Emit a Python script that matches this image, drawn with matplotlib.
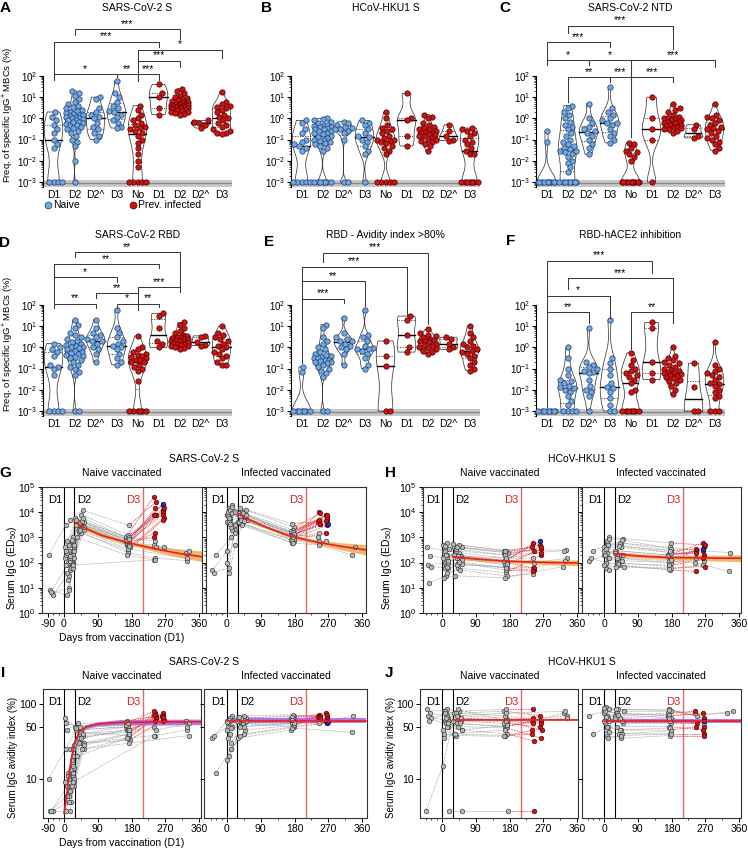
import numpy as np
import matplotlib
matplotlib.use("Agg")
import matplotlib.pyplot as plt
from matplotlib.lines import Line2D
from matplotlib.ticker import (FixedLocator, NullFormatter, FuncFormatter,
                               LogLocator, LogFormatterSciNotation, NullLocator)

plt.rcParams['font.family'] = ['Liberation Sans', 'DejaVu Sans']
plt.rcParams['mathtext.fontset'] = 'custom'
plt.rcParams['mathtext.rm'] = 'Liberation Sans'
plt.rcParams['mathtext.it'] = 'Liberation Sans:italic'
plt.rcParams['mathtext.bf'] = 'Liberation Sans:bold'
plt.rcParams['axes.unicode_minus'] = False

N = None
LOD = 0.001
GROUPS = ['D1', 'D2', 'D2^', 'D3', 'No', 'D1', 'D2', 'D2^', 'D3']

# ---------------- violin data (frequency %, per group) ----------------
vals_A = [
    [2.0, 1.2, 0.8, 0.5, 0.3, 0.2, 0.1, 0.06, 0.04] + [LOD] * 4,
    [20, 15, 12, 8, 6, 5, 4, 3.5, 3, 2.5, 2.2, 2, 1.8, 1.6, 1.5, 1.4, 1.3, 1.2, 1.1, 1.0, 1.0,
     0.9, 0.85, 0.8, 0.7, 0.65, 0.6, 0.55, 0.5, 0.45, 0.4, 0.35, 0.3, 0.25, 0.2, 0.15, 0.1,
     0.08, 0.05, 0.01, LOD],
    [10, 8, 3, 2, 1.5, 1.2, 1.0, 0.6, 0.4, 0.3, 0.2, 0.15, 0.1],
    [60, 15, 10, 6, 4, 3, 2.2, 2, 1.5, 1.2, 0.8, 0.6, 0.4, 0.35],
    [4, 2.5, 1.5, 1, 0.8, 0.6, 0.5, 0.4, 0.35, 0.3, 0.25, 0.2, 0.15, 0.1, 0.07, 0.04, 0.02,
     0.01, 0.005] + [LOD] * 5,
    [40, 15, 10, 3, 1.5],
    [25, 20, 15, 12, 10, 9, 8, 7, 6.5, 6, 5.5, 5, 5, 4.5, 4.5, 4.2, 4, 4, 3.8, 3.5, 3.5, 3.2,
     3, 3, 2.8, 2.5, 2.5, 2.2, 2, 2, 1.8, 1.6, 1.5],
    [0.8, 0.7, 0.6, 0.5, 0.35],
    [18, 6, 5, 4, 3.5, 3, 2.5, 2, 1.5, 1.2, 1, 0.8, 0.6, 0.5, 0.4, 0.3, 0.25, 0.2, 0.2, 0.18],
]
vals_B = [
    [0.8, 0.6, 0.3, 0.2, 0.1, 0.08, 0.06, 0.05, 0.04, 0.03] + [LOD] * 5,
    [1.0, 0.9, 0.8, 0.7, 0.6, 0.5, 0.5, 0.45, 0.4, 0.4, 0.35, 0.3, 0.3, 0.25, 0.25, 0.2, 0.2,
     0.18, 0.15, 0.13, 0.12, 0.1, 0.1, 0.09, 0.08, 0.07, 0.06, 0.05, 0.04, 0.03] + [LOD] * 7,
    [0.7, 0.6, 0.5, 0.4, 0.35, 0.3, 0.3, 0.25, 0.2, 0.1, LOD, LOD],
    [0.8, 0.6, 0.5, 0.3, 0.2, 0.15, 0.13, 0.1, 0.08, 0.05, 0.03, 0.02, LOD],
    [2, 1.0, 0.5, 0.35, 0.3, 0.25, 0.2, 0.15, 0.12, 0.1, 0.1, 0.09, 0.08, 0.07, 0.05, 0.04,
     0.03, 0.02] + [LOD] * 5,
    [15, 1.0, 0.8, 0.15, 0.05],
    [1.5, 1.2, 1.0, 0.6, 0.5, 0.4, 0.35, 0.3, 0.28, 0.25, 0.22, 0.2, 0.2, 0.18, 0.16, 0.15,
     0.14, 0.12, 0.1, 0.1, 0.09, 0.08, 0.06, 0.05, 0.03],
    [0.5, 0.25, 0.15, 0.1, 0.09],
    [0.35, 0.3, 0.25, 0.2, 0.15, 0.1, 0.08, 0.06, 0.04, 0.03, 0.02, 0.02] + [LOD] * 7,
]
vals_C = [
    [0.25, 0.08] + [LOD] * 10,
    [4, 3, 2, 1.5, 1, 0.7, 0.5, 0.4, 0.3, 0.2, 0.15, 0.1, 0.08, 0.06, 0.05, 0.04, 0.035, 0.03,
     0.03, 0.025, 0.02, 0.015, 0.01, 0.008, 0.005, 0.003] + [LOD] * 8,
    [5, 1, 0.6, 0.4, 0.3, 0.25, 0.2, 0.15, 0.1, 0.06, 0.04, 0.02],
    [30, 3, 2, 1.5, 1, 0.8, 0.6, 0.6, 0.5, 0.3, 0.2, 0.15, 0.1, 0.07],
    [0.07, 0.06, 0.04, 0.03, 0.025, 0.02, 0.015, 0.01] + [LOD] * 10,
    [10, 1.0, 0.3, 0.1, LOD],
    [5, 3, 2.5, 2, 1.5, 1.2, 1, 1, 0.9, 0.8, 0.8, 0.7, 0.7, 0.6, 0.6, 0.5, 0.5, 0.45, 0.4,
     0.4, 0.35, 0.3, 0.3, 0.25, 0.2],
    [0.5, 0.3, 0.15, 0.12],
    [5, 1.5, 1.2, 1, 0.8, 0.6, 0.5, 0.4, 0.35, 0.3, 0.25, 0.2, 0.15, 0.12, 0.1, 0.08, 0.06,
     0.04, 0.03],
]
vals_D = [
    [1.5, 1.0, 0.8, 0.6, 0.4, 0.15, 0.12, 0.1, 0.05] + [LOD] * 4,
    [20, 12, 8, 5, 4, 3, 2.5, 2, 1.8, 1.5, 1.3, 1.2, 1.0, 1.0, 0.9, 0.8, 0.7, 0.6, 0.55, 0.5,
     0.45, 0.4, 0.35, 0.3, 0.25, 0.2, 0.15, 0.12, 0.1, 0.07, 0.05, LOD, LOD],
    [20, 8, 5, 4, 3, 2.5, 2, 2, 1.5, 1, 0.8, 0.5, 0.2],
    [60, 8, 5, 3, 2, 1.5, 1.2, 1.0, 0.8, 0.5, 0.3, 0.2, 0.15],
    [3.5, 1.0, 0.8, 0.6, 0.5, 0.45, 0.4, 0.35, 0.3, 0.25, 0.25, 0.2, 0.2, 0.15, 0.12, 0.1,
     0.08, 0.025] + [LOD] * 6,
    [40, 30, 8, 2, 1.5, 1.0],
    [15, 12, 8, 6, 5, 4, 3.5, 3, 3, 2.8, 2.5, 2.5, 2.2, 2, 2, 1.8, 1.6, 1.5, 1.4, 1.3, 1.2,
     1.1, 1.0, 0.9, 0.8],
    [3.5, 3, 1.8, 1.3, 1.2],
    [10, 5, 4, 3, 2.5, 2, 1.5, 1.2, 1.0, 0.8, 0.6, 0.5, 0.4, 0.3, 0.2, 0.15, 0.15],
]
vals_E = [
    [0.12, 0.07] + [LOD] * 7,
    [12, 8, 3, 2, 1.5, 1.0, 0.8, 0.6, 0.5, 0.45, 0.4, 0.35, 0.3, 0.3, 0.25, 0.25, 0.22, 0.2,
     0.2, 0.18, 0.15, 0.12, 0.1, 0.08, 0.06, 0.04, LOD, LOD],
    [25, 5, 3, 2.5, 2, 2, 1.5, 1.2, 1, 0.8, 0.5, 0.15],
    [60, 4, 3, 2, 1.2, 0.9, 0.8, 0.8, 0.7, 0.5, 0.3, 0.15, 0.1],
    [2, 0.4, 0.13, LOD, LOD],
    [30, 20, 4, 1, 0.6],
    [7, 5, 4, 3.5, 3, 2.5, 2.2, 2, 2, 1.8, 1.5, 1.3, 1.2, 1, 0.9, 0.8, 0.7, 0.6, 0.5],
    [3, 2.5, 1.5, 1, 0.8],
    [10, 5, 3, 2, 1.5, 1.2, 1, 0.8, 0.7, 0.6, 0.5, 0.4, 0.3, 0.2, 0.15, 0.1, 0.08],
]
vals_F = [
    [LOD] * 8,
    [1.0, 0.3, 0.1, 0.05, 0.03, 0.025, 0.02, 0.015, 0.013, 0.012, 0.01, 0.008, 0.005, 0.003,
     0.002] + [LOD] * 4,
    [8, 0.2, 0.15, 0.12, 0.1, 0.08, 0.07, 0.06, 0.03, 0.015, 0.01, 0.008, 0.005, LOD],
    [20, 0.3, 0.18, 0.1, 0.05, 0.02, 0.013, 0.012, 0.008, 0.004, 0.002, LOD, LOD],
    [0.55, 0.25, 0.15, 0.1, 0.08, 0.06, 0.05, 0.04, 0.03, 0.02, 0.01, 0.008] + [LOD] * 7,
    [15, 8, 0.2, 0.06, 0.03],
    [1.0, 0.4, 0.3, 0.25, 0.2, 0.18, 0.15, 0.12, 0.1, 0.09, 0.08, 0.07, 0.065, 0.06, 0.055,
     0.05, 0.045, 0.04, 0.035, 0.03, 0.025, 0.02, 0.015, 0.01, 0.006],
    [0.18, 0.013, LOD, LOD],
    [1.8, 0.15, 0.1, 0.08, 0.06, 0.05, 0.04, 0.03, 0.02, 0.018, 0.015, 0.01, 0.008, 0.005,
     0.004] + [LOD] * 3,
]

# significance brackets: (group i, group j, level, left leg end, right leg end, label) in log10 units
br_A = [(1, 6, 4.20, 3.93, 3.73, '***'), (0, 5, 3.62, 2.09, 3.35, '***'),
        (4, 8, 3.23, 2.71, 2.83, '*'), (4, 6, 2.71, 2.09, 2.44, '***'),
        (4, 5, 2.09, 1.78, 1.81, '***'), (3, 4, 2.09, 1.94, 1.78, '**'),
        (0, 3, 2.09, 1.81, 1.94, '*')]
br_B = []
br_C = [(1, 6, 4.37, 4.01, 3.26, '***'), (0, 3, 3.59, 2.75, 3.38, '***'),
        (0, 2, 2.75, 2.52, 2.52, '*'), (2, 4, 2.75, 2.52, 1.94, '*'),
        (4, 8, 2.75, 1.94, 2.44, '***'), (1, 3, 1.94, 0.75, 1.73, '**'),
        (3, 4, 1.94, 1.73, -0.9, '***'), (4, 6, 1.94, -0.9, 1.73, '***')]
br_D = [(1, 6, 4.49, 4.28, 2.83, '**'), (0, 5, 3.93, 3.31, 3.73, '**'),
        (0, 3, 3.31, 2.05, 3.10, '*'), (4, 6, 2.83, 2.55, 2.63, '***'),
        (2, 4, 2.55, 2.31, 2.05, '**'), (0, 2, 2.05, 1.84, 1.84, '**'),
        (3, 4, 2.05, 1.88, 1.77, '*'), (4, 5, 2.05, 1.77, 1.89, '**')]
br_E = [(1, 6, 4.47, 4.04, 1.1, '***'), (0, 5, 3.80, 3.13, 1.53, '***'),
        (0, 3, 3.13, 2.30, 1.95, '**'), (0, 2, 2.30, -0.75, 2.08, '***')]
br_F = [(0, 5, 4.09, 2.44, 3.49, '***'), (1, 6, 3.26, 2.75, 1.65, '***'),
        (0, 3, 2.44, 1.65, 1.37, '*'), (0, 2, 1.65, -2.8, 1.15, '**'),
        (4, 6, 1.65, -0.1, 1.15, '**')]

# ---------------- serum time courses ----------------
# columns: pre-vacc, post-D1, pre-D2, post-D2, ~6 months, post-D3 (a), post-D3 (b), late
NAIVE_DAYS = [-75, 10, 24, 42, 170, 242, 264, 328]
INF_DAYS = [-70, 6, 22, 40, 175, 245, 266, 335]
SPREAD = [2.0, 1.0, 0.3, 1.5, 0.6, 0.4, 0.3, 1.0]
SHIFT = [-6, 4, -2, 7, 0, -8, 3, 5, -4, 1, 8, -7, 2, -3, 6, -1, 4, -5, 0, 7, -2, 3, -6, 5, 1]

G_naive = [
    [200, 3000, N, 5000, 900, N, N, N], [6, 10, 300, 3000, 600, 15000, N, N],
    [8, 5, 100, 2500, 500, N, 12000, N], [5, 50, 400, 4000, 700, 8000, N, N],
    [7, 80, 200, 3500, 800, N, 20000, N], [N, 150, 600, 6000, 1000, 40000, N, N],
    [N, 300, 800, 8000, 1200, N, 10000, N], [N, 5000, N, 12000, 3000, 25000, N, N],
    [N, 200, 500, 4000, 600, N, 8000, N], [N, 100, 300, 3000, 500, 1500, N, N],
    [N, 60, 150, 2000, 400, N, 6000, N], [N, 400, N, 5000, 700, 1000, N, N],
    [N, 30, 100, 1500, 300, N, 5000, N], [N, 250, 700, 3000, 600, 500, N, 250],
    [N, 120, 400, 2500, 500, 400, N, 300], [N, 40, 90, 1800, 250, 150, N, 120],
    [N, 500, 1000, 4500, 1000, 700, N, N], [N, 80, N, 1000, 200, 130, N, N],
    [N, 20, 60, 2000, 350, N, N, 150], [N, 150, 300, 2500, 450, N, 400, N],
    [N, 700, N, 3500, 800, N, 22000, N], [N, 8, 80, N, N, 130, N, N],
    [N, 300, 800, 3000, 700, 8000, N, N], [N, 180, 500, 6000, 900, N, 15000, N],
]
G_naive_grp = list("g" + "r" * 12 + "g" * 7 + "b" + "g" + "rr")
G_inf = [
    [50, 300, 3000, 8000, 1500, N, 8000, N], [200, 1000, N, 5000, 1000, 10000, N, N],
    [40, 60, 2000, 6000, 1200, N, 5000, N], [N, 20000, N, 12000, 2500, 9000, N, N],
    [N, 15000, N, 10000, 2000, N, 7000, N], [N, 8000, N, 9000, 1800, 4000, N, N],
    [N, 5000, N, 6000, 1500, N, 6000, N], [N, 3000, N, 8000, 1200, 3500, N, N],
    [N, 10000, N, 15000, 3500, N, 4500, N], [N, 6000, N, 7000, 900, N, 3000, N],
    [N, 2000, N, 5000, 1000, 3500, N, N], [N, 4000, N, 4000, 800, N, 1500, N],
    [N, 12000, N, 9000, 1600, 5000, N, N], [N, 7000, N, 7000, 1300, 1000, N, N],
    [N, 9000, N, 6000, 700, 600, N, 400], [N, 4000, N, 3500, 600, 500, N, 200],
    [N, 2500, N, 5000, 900, 700, N, N], [N, 100, 1500, 4000, 800, N, 700, N],
    [N, 40, 500, 3000, 600, N, N, N], [N, 16000, N, 8000, 1400, N, 3500, N],
    [N, 6000, 10000, 5000, 1100, N, 8000, N], [N, 3500, N, 4500, 1000, 1500, N, N],
]
G_inf_grp = list("r" * 13 + "g" * 6 + "b" + "r" + "g")
H_naive = [
    [400, 300, N, 400, 250, N, 500, N], [180, 150, N, 200, 120, 600, N, N],
    [80, 100, N, 150, 80, N, 350, N], [70, 60, N, 90, 60, 50, N, N],
    [15, 30, N, 60, 40, N, 200, N], [N, 500, N, 550, 300, 400, N, N],
    [N, 200, N, 250, 150, N, 250, N], [N, 120, N, 180, 100, 60, N, N],
    [N, 250, N, 300, 200, N, 400, N], [N, 80, N, 100, 50, 45, N, N],
    [N, 350, N, 400, 250, 300, N, N], [N, 150, N, 200, 120, N, 700, N],
    [N, 600, N, 500, 300, N, N, 320], [N, 300, N, 350, 200, N, N, 300],
    [N, 100, N, 150, 100, 100, N, 150], [N, 60, N, 80, 70, 60, N, 120],
    [N, 40, N, 50, 30, 35, N, N], [N, 25, N, 30, 25, N, N, 70],
    [N, 200, N, 180, 150, 150, N, N], [N, 120, N, 130, 90, N, N, N],
    [N, 450, N, 420, 280, N, N, N], [N, 70, N, 110, 60, N, N, N],
]
H_naive_grp = list("r" * 11 + "b" + "g" * 10)
H_inf = [
    [120, 200, N, 300, 200, N, 600, N], [300, 500, N, 600, 300, 350, N, N],
    [150, 100, N, 150, 100, N, 400, N], [N, 1000, N, 900, 600, N, 500, N],
    [N, 60, N, 80, 50, 45, N, N], [N, 400, N, 300, 200, N, 300, N],
    [N, 250, N, 200, 150, 300, N, N], [N, 150, N, 120, 100, N, 200, N],
    [N, 80, N, 100, 70, N, 150, N], [N, 600, N, 500, 250, 250, N, N],
    [N, 50, N, 70, 60, N, 70, N], [N, 300, N, 250, 180, N, 350, N],
    [N, 700, N, 600, 400, 300, N, 250], [N, 200, N, 150, 120, 100, N, 45],
    [N, 900, N, 800, 350, N, 120, N], [N, 100, N, 90, 80, 150, N, N],
    [N, 500, N, 400, 250, N, N, N], [N, 80, N, 70, 55, N, 80, N],
    [N, 350, N, 450, 300, N, N, N], [N, 150, N, 200, 130, N, N, N],
]
H_inf_grp = list("r" * 11 + "b" + "g" * 8)
I_naive = [
    [10, 25, N, 45, 50, N, 70, N], [3.7, 5, 10, 30, 40, 75, N, N],
    [3.7, 6, 12, 35, 45, N, 65, N], [3.7, 3.7, 8, 25, 35, 70, N, N],
    [3.7, 8, 15, 40, 50, N, 75, N], [N, 65, N, 50, 55, 80, N, N],
    [N, 10, 20, 45, 50, N, 60, N], [N, 7, 14, 38, 42, 65, N, N],
    [N, 55, N, 50, 60, N, 70, N], [N, 12, 25, 42, 38, 60, N, N],
    [N, 5, 9, 30, 33, N, 62, N], [N, 9, 18, 48, 52, 72, N, N],
    [N, 6, 11, 35, 45, N, 68, N], [N, 45, N, 55, 58, 50, N, 60],
    [N, 25, 28, 40, 45, 45, N, 55], [N, 8, 15, 30, 35, 38, N, 45],
    [N, 5, 12, 25, 30, N, N, 38], [N, 3.7, 8, 20, 35, N, N, N],
    [N, 11, 25, 50, 55, N, N, 50], [N, 7, 10, 28, 40, N, N, N],
    [N, 6, 9, N, N, 38, N, N],
]
I_naive_grp = list("r" * 13 + "g" * 8)
I_inf = [
    [35, 60, N, 60, 65, N, 75, N], [12, 25, N, 40, 50, 72, N, N],
    [38, 50, N, 55, 60, N, 70, N], [N, 70, N, 65, 70, 70, N, N],
    [N, 20, N, 55, 55, N, 65, N], [N, 45, N, 60, 62, 68, N, N],
    [N, 65, N, 70, 72, N, 72, N], [N, 30, N, 58, 60, 65, N, N],
    [N, 55, N, 50, 55, N, 60, N], [N, 40, N, 55, 50, N, 55, N],
    [N, 50, N, 60, 58, N, 58, N], [N, 18, N, 35, 45, N, N, N],
    [N, 60, N, 62, 65, 55, N, 70], [N, 35, N, 38, 48, N, N, 42],
    [N, 25, N, 45, 52, N, N, N], [N, 62, N, 65, 68, N, N, N],
    [N, 48, N, 50, 55, N, 55, N], [N, 58, N, 68, 62, N, N, N],
]
I_inf_grp = list("r" * 10 + "b" + "g" * 7)
J_naive = [
    [85, 80, N, 75, 80, N, 70, N], [75, 70, N, 65, 60, 55, N, N],
    [70, 60, N, 55, 50, N, 60, N], [65, 50, N, 45, 40, 32, N, N],
    [60, 75, N, 70, 65, N, 55, N], [3.7, 15, N, 60, 55, N, 50, N],
    [N, 85, N, 80, 85, 85, N, N], [N, 65, N, 60, 58, N, 45, N],
    [N, 40, N, 38, 37, 45, N, N], [N, 55, N, 50, 48, N, 35, N],
    [N, 3.7, N, 3.7, 3.7, 3.7, N, N], [N, 45, N, 40, 38, 40, N, N],
    [N, 70, N, 65, 62, 65, N, N], [N, 80, N, 75, 70, 60, N, 75],
    [N, 60, N, 65, 60, N, N, 70], [N, 75, N, 70, 75, N, N, 80],
    [N, 50, N, 55, 50, 60, N, 65], [N, 35, N, 40, 45, N, N, N],
    [N, 65, N, 85, 60, N, N, N], [N, 55, N, 45, 52, N, N, N],
]
J_naive_grp = list("r" * 13 + "g" * 7)
J_inf = [
    [70, 80, N, 75, 70, N, 75, N], [40, 50, N, 45, 45, 50, N, N],
    [N, 90, N, 85, 85, N, 65, N], [N, 60, N, 55, 55, 55, N, N],
    [N, 45, N, 40, 40, N, 40, N], [N, 75, N, 70, 75, 80, N, N],
    [N, 38, N, 35, 38, N, 38, N], [N, 65, N, 60, 65, N, 50, N],
    [N, 55, N, 50, 50, N, 45, N], [N, 70, N, 65, 60, N, 60, N],
    [N, 85, N, 80, 80, 70, N, 80], [N, 60, N, 65, 70, N, N, 75],
    [N, 50, N, 45, 48, N, N, N], [N, 80, N, 75, 72, N, N, N],
    [N, 42, N, 40, 44, N, N, N], [N, 68, N, 72, 65, N, 55, N],
    [N, 35, N, 38, 40, N, N, N], [N, 88, N, 85, 82, 75, N, N],
]
J_inf_grp = list("r" * 9 + "b" + "g" * 8)

# fitted curves (day, fit, lower CI, upper CI)
G_n_fit = ([28, 60, 100, 170, 240, 300, 368], [4000, 2200, 1200, 620, 360, 240, 170],
           [3000, 1800, 1000, 530, 280, 170, 110], [5300, 2700, 1450, 720, 460, 340, 290])
G_i_fit = ([28, 60, 100, 170, 240, 300, 370], [9000, 5000, 2700, 1100, 650, 450, 320],
           [7500, 4300, 2400, 950, 530, 330, 200], [10800, 5800, 3000, 1270, 800, 620, 520])
H_n_fit = ([28, 100, 170, 240, 300, 362], [170, 135, 115, 105, 100, 97],
           [140, 115, 100, 88, 80, 74], [205, 155, 132, 125, 125, 128])
H_i_fit = ([28, 100, 170, 240, 300, 364], [220, 180, 160, 155, 150, 150],
           [180, 150, 135, 125, 115, 110], [270, 210, 190, 192, 196, 205])
I_n_fit = ([0, 7, 14, 21, 28, 40, 60, 90, 150, 366], [3.5, 6, 12, 20, 30, 42, 50, 54, 57, 58],
           [3.2, 5.4, 11, 18, 27, 39, 47, 51, 53, 53], [3.8, 6.6, 13, 22, 33, 45, 53, 58, 62, 63])
I_i_fit = ([2, 370], [60, 60], [56, 56], [65, 65])
J_n_fit = ([28, 362], [62, 62], [60.5, 60.5], [63.5, 63.5])
J_i_fit = ([0, 364], [59, 59], [55, 55], [63, 63])

# ---------------- layout helpers ----------------
W, H = 748, 848
fig = plt.figure(figsize=(W / 100, H / 100), dpi=100)


def add_ax(x0, y0, x1, y1):
    return fig.add_axes([x0 / W, 1 - y1 / H, (x1 - x0) / W, (y1 - y0) / H])


def ftext(x, y, s, **kw):
    fig.text(x / W, 1 - y / H, s, **kw)


BLUE_F, BLUE_E = '#74a7dd', '#1d3d70'
RED_F, RED_E = '#cc1414', '#4d0000'
YBOT = 10 ** -3.24


def swarm(lv, d=0.235, lim=0.42):
    order = np.argsort(lv, kind='stable')
    placed = []
    off = np.zeros(len(lv))
    cands = [0.0]
    for st in np.arange(d / 4, lim + 1e-9, d / 4):
        cands += [st, -st]
    for k in order:
        y = lv[k]
        best, bestd = 0.0, -1.0
        for c in cands:
            if placed:
                P = np.array(placed)
                md = np.min(np.hypot(P[:, 0] - c, P[:, 1] - y))
            else:
                md = 1e9
            if md >= d:
                best = c
                break
            if md > bestd:
                best, bestd = c, md
        placed.append((best, y))
        off[k] = best
    return off


def violin_panel(ax, data, brackets):
    ax.set_yscale('log')
    ax.set_ylim(YBOT, 100)
    ax.set_xlim(-0.5, 8.5)
    ax.axhspan(YBOT, 10 ** -2.92, color='#c9c9c9', lw=0, zorder=0)
    ax.axhline(10 ** -3.06, color='#8a8a8a', lw=1.0, zorder=0.5)
    for i, vals in enumerate(data):
        v = np.asarray(vals, float)
        lv = np.log10(v)
        fc, ec = (BLUE_F, BLUE_E) if i < 4 else (RED_F, RED_E)
        lo, hi = lv.min(), lv.max()
        med = np.median(lv)
        q1, q3 = np.percentile(lv, [25, 75])
        if hi - lo > 0.02:
            g = np.linspace(lo, hi, 160)
            sd = lv.std()
            iqr = q3 - q1
            s = min(sd, iqr / 1.34) if iqr > 0 else sd
            bw = max(0.9 * s * len(lv) ** -0.2, 0.15)
            dens = np.exp(-0.5 * ((g[:, None] - lv[None, :]) / bw) ** 2).sum(1)
            hw = 0.44 * dens / dens.max()
            ax.fill(np.r_[i - hw, (i + hw)[::-1]], 10 ** np.r_[g, g[::-1]], fc='white',
                    ec='#3c3c3c', lw=0.55, zorder=2)
            wm = np.interp(med, g, hw)
            ax.plot([i - wm, i + wm], [10 ** med] * 2, color='black', lw=1.0, zorder=3)
            for q in (q1, q3):
                wq = np.interp(q, g, hw)
                ax.plot([i - wq, i + wq], [10 ** q] * 2, color='#444444', lw=0.6,
                        ls=(0, (1.5, 1.5)), zorder=3)
        xs = swarm(lv)
        ax.scatter(i + xs, v, s=15, c=fc, edgecolors=ec, linewidths=0.5, zorder=4, clip_on=False)
    for i, j, top, lb, rb, lab in brackets:
        ax.plot([i, i, j, j], [10 ** lb, 10 ** top, 10 ** top, 10 ** rb], color='#3a3a3a',
                lw=0.75, clip_on=False, zorder=5)
        ax.text((i + j) / 2, 10 ** (top + 0.02), lab, ha='center', va='bottom', fontsize=7.5,
                clip_on=False)
    ax.set_xticks(range(9))
    ax.set_xticklabels(GROUPS, fontsize=7.5)
    ax.tick_params(axis='x', length=0, pad=2.5)
    ax.yaxis.set_major_locator(FixedLocator([1e-3, 1e-2, 1e-1, 1, 10, 100]))
    ax.yaxis.set_major_formatter(LogFormatterSciNotation())
    ax.yaxis.set_minor_locator(LogLocator(base=10, subs=np.arange(2, 10), numticks=30))
    ax.yaxis.set_minor_formatter(NullFormatter())
    ax.tick_params(axis='y', which='major', length=3, width=0.8, labelsize=7, pad=1)
    ax.tick_params(axis='y', which='minor', length=1.6, width=0.5)
    for sp in ['top', 'right', 'bottom']:
        ax.spines[sp].set_visible(False)
    ax.spines['left'].set_linewidth(0.8)


VIOLIN_TITLES = ['SARS-CoV-2 S', 'HCoV-HKU1 S', 'SARS-CoV-2 NTD',
                 'SARS-CoV-2 RBD', 'RBD - Avidity index >80%', 'RBD-hACE2 inhibition']
VIOLIN_DATA = [vals_A, vals_B, vals_C, vals_D, vals_E, vals_F]
VIOLIN_BR = [br_A, br_B, br_C, br_D, br_E, br_F]
VX = [43, 291, 536]
VROW = [(76, 187), (305, 416)]
TITLE_Y = [8, 235]
LETTERS = [('A', 5, 8), ('B', 267, 8), ('C', 505, 8), ('D', 5, 243), ('E', 269, 242),
           ('F', 511, 241)]
for k in range(6):
    r, c = divmod(k, 3)
    y0, y1 = VROW[r]
    ax = add_ax(VX[c], y0, VX[c] + 189, y1)
    violin_panel(ax, VIOLIN_DATA[k], VIOLIN_BR[k])
    ftext(VX[c] + 94.5, TITLE_Y[r], VIOLIN_TITLES[k], ha='center', va='center', fontsize=7.5)
    if c == 0:
        ax.set_ylabel('Freq. of specific IgG$^{+}$ MBCs (%)', fontsize=6.8)
        ax.yaxis.set_label_coords(-0.150, 0.65)
for L, x, y in LETTERS:
    ftext(x, y, L, ha='center', va='center', fontsize=11, fontweight='bold')

# legend
fig.add_artist(Line2D([48 / W], [1 - 205 / H], marker='o', ls='', ms=5, mfc=BLUE_F, mec=BLUE_E,
                      mew=0.5, transform=fig.transFigure))
ftext(53, 205, 'Naive', ha='left', va='center', fontsize=7.5)
fig.add_artist(Line2D([133 / W], [1 - 205 / H], marker='o', ls='', ms=5, mfc=RED_F, mec=RED_E,
                      mew=0.5, transform=fig.transFigure))
ftext(138, 205, 'Prev. infected', ha='left', va='center', fontsize=7.5)

# ---------------- time-course panels ----------------
C_PRE = 0.474
PPD = 0.375


def fwd(x):
    x = np.asarray(x, float)
    return np.where(x < 0, x * C_PRE, x)


def inv(x):
    x = np.asarray(x, float)
    return np.where(x < 0, x / C_PRE, x)


GREY_F, GREY_E = '#b8b8b8', '#383838'
PT_BLUE_F, PT_BLUE_E = '#2233bb', '#000044'


def course_panel(box, kind, neg_label, days, rows, grp, fit, band_color, show_ylab):
    x0, x1, xz, y0, y1 = box
    ax = add_ax(x0, y0, x1, y1)
    ax.set_xscale('function', functions=(fwd, inv))
    ax.set_xlim(-(xz - x0) / PPD / C_PRE, (x1 - xz) / PPD)
    ax.set_yscale('log')
    if kind == 'igg':
        ax.set_ylim(1, 1e5)
        ax.yaxis.set_major_locator(FixedLocator([1, 10, 100, 1e3, 1e4, 1e5]))
        ax.yaxis.set_major_formatter(LogFormatterSciNotation())
        ax.yaxis.set_minor_locator(LogLocator(base=10, subs=np.arange(2, 10), numticks=30))
    else:
        ax.set_ylim(3.02, 158.5)
        ax.yaxis.set_major_locator(FixedLocator([10, 50, 100]))
        ax.yaxis.set_major_formatter(FuncFormatter(lambda v, p: f'{v:.0f}'))
        ax.yaxis.set_minor_locator(NullLocator())
    ax.yaxis.set_minor_formatter(NullFormatter())
    if not show_ylab:
        ax.yaxis.set_major_formatter(NullFormatter())
    majors = [-90, 0, 90, 180, 270, 360] if neg_label else [0, 90, 180, 270, 360]
    minors = [-60, -30, 45, 135, 225, 315] + ([] if neg_label else [-90])
    ax.xaxis.set_major_locator(FixedLocator(majors))
    ax.xaxis.set_minor_locator(FixedLocator(minors))
    ax.xaxis.set_major_formatter(FuncFormatter(lambda v, p: f'{v:.0f}'))
    ax.tick_params(which='major', length=3, width=0.7, labelsize=7.5, pad=1.5)
    ax.tick_params(which='minor', length=1.6, width=0.5)
    for sp in ax.spines.values():
        sp.set_linewidth(0.8)
        sp.set_color('#333333')
    ax.axvline(0, color='black', lw=0.8, zorder=1.5)
    ax.axvline(28, color='black', lw=0.8, zorder=1.5)
    ax.axvline(210, color='#e26a6a', lw=1.0, zorder=1.5)
    for xd, lab, off, ha, col in [(0, 'D1', -1.5, 'right', 'black'), (28, 'D2', 2, 'left', 'black'),
                                  (210, 'D3', -1.5, 'right', '#d61f1f')]:
        ax.annotate(lab, xy=(xd, 0.9), xycoords=('data', 'axes fraction'), xytext=(off, 0),
                    textcoords='offset points', ha=ha, va='center', fontsize=8, color=col)
    gx, gy, rx, ry, bx, by = [], [], [], [], [], []
    for s, row in enumerate(rows):
        pts = [(days[c] + SHIFT[s % len(SHIFT)] * SPREAD[c], v, c)
               for c, v in enumerate(row) if v is not None]
        g = grp[s]
        pre = [p for p in pts if p[2] < 5 or g == 'g']
        post = [p for p in pts if p[2] >= 5 and g != 'g']
        if len(pre) > 1:
            ax.plot([p[0] for p in pre], [p[1] for p in pre], ls=(0, (1, 1)), color='#8a8a8a',
                    lw=0.5, zorder=1)
        gx += [p[0] for p in pre]
        gy += [p[1] for p in pre]
        if post:
            chain = ([pre[-1]] if pre else []) + post
            lc = '#e02a2a' if g == 'r' else '#3344cc'
            ax.plot([p[0] for p in chain], [p[1] for p in chain], ls=(0, (1, 1)), color=lc,
                    lw=0.6, zorder=1.2)
            if g == 'r':
                rx += [p[0] for p in post]
                ry += [p[1] for p in post]
            else:
                bx += [p[0] for p in post]
                by += [p[1] for p in post]
    fd, fv, flo, fhi = fit
    ax.fill_between(fd, flo, fhi, color=band_color, alpha=0.85, lw=0, zorder=2)
    ax.scatter(gx, gy, s=11, c=GREY_F, edgecolors=GREY_E, linewidths=0.45, zorder=3)
    ax.scatter(rx, ry, s=11, c=RED_F, edgecolors=RED_E, linewidths=0.45, zorder=4)
    ax.scatter(bx, by, s=11, c=PT_BLUE_F, edgecolors=PT_BLUE_E, linewidths=0.45, zorder=4)
    ax.plot(fd, fv, color='#e8201c', lw=1.2, zorder=5)
    return ax


ORANGE = '#eeaa55'
PURPLE = '#ad5ee8'
# G
axG1 = course_panel((42, 202, 64, 487, 613), 'igg', True, NAIVE_DAYS, G_naive, G_naive_grp,
                    G_n_fit, ORANGE, True)
axG2 = course_panel((206, 366, 227, 487, 613), 'igg', False, INF_DAYS, G_inf, G_inf_grp,
                    G_i_fit, ORANGE, False)
axG1.set_ylabel('Serum IgG (ED$_{50}$)', fontsize=7.5)
axG1.yaxis.set_label_coords(-0.145, 0.36)
axG1.set_xlabel('Days from vaccination (D1)', fontsize=7.5, labelpad=3)
# H
axH1 = course_panel((423, 578, 442, 487, 613), 'igg', False, NAIVE_DAYS, H_naive, H_naive_grp,
                    H_n_fit, ORANGE, True)
axH2 = course_panel((582, 741, 604, 487, 613), 'igg', False, INF_DAYS, H_inf, H_inf_grp,
                    H_i_fit, ORANGE, False)
axH1.set_ylabel('Serum IgG (ED$_{50}$)', fontsize=7.5)
axH1.yaxis.set_label_coords(-0.19, 0.36)
# I
axI1 = course_panel((43, 201, 64, 689, 818), 'avid', True, NAIVE_DAYS, I_naive, I_naive_grp,
                    I_n_fit, PURPLE, True)
axI2 = course_panel((204, 367, 227, 689, 818), 'avid', False, INF_DAYS, I_inf, I_inf_grp,
                    I_i_fit, PURPLE, False)
axI1.set_ylabel('Serum IgG avidity index (%)', fontsize=7)
axI1.yaxis.set_label_coords(-0.158, 0.47)
axI1.set_xlabel('Days from vaccination (D1)', fontsize=7.5, labelpad=3)
# J
axJ1 = course_panel((420, 578, 442, 689, 818), 'avid', False, NAIVE_DAYS, J_naive, J_naive_grp,
                    J_n_fit, PURPLE, True)
axJ2 = course_panel((582, 741, 604, 689, 818), 'avid', False, INF_DAYS, J_inf, J_inf_grp,
                    J_i_fit, PURPLE, False)
axJ1.set_ylabel('Serum IgG avidity index (%)', fontsize=7)
axJ1.yaxis.set_label_coords(-0.152, 0.47)

for (t, xc, yt), (xl, xr) in [(('SARS-CoV-2 S', 204, 459), (122, 286)),
                              (('HCoV-HKU1 S', 582, 459), (500, 661)),
                              (('SARS-CoV-2 S', 204, 662), (122, 286)),
                              (('HCoV-HKU1 S', 582, 662), (500, 661))]:
    ftext(xc, yt, t, ha='center', va='center', fontsize=7.5)
    ftext(xl, yt + 14, 'Naive vaccinated', ha='center', va='center', fontsize=7.5)
    ftext(xr, yt + 14, 'Infected vaccinated', ha='center', va='center', fontsize=7.5)
for L, x, y in [('G', 5, 473), ('H', 390, 473), ('I', 3, 673), ('J', 389, 673)]:
    ftext(x, y, L, ha='center', va='center', fontsize=11, fontweight='bold')

fig.savefig('out.png', dpi=100)
